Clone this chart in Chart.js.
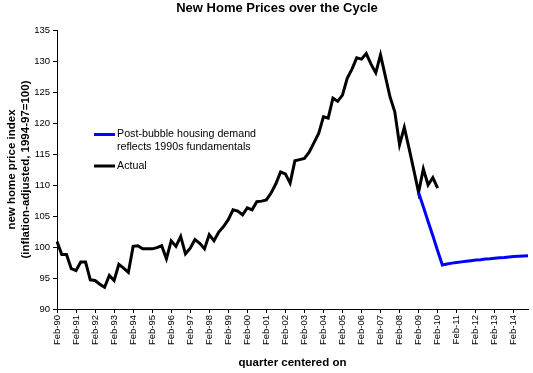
<!DOCTYPE html>
<html>
<head>
<meta charset="utf-8">
<title>New Home Prices over the Cycle</title>
<script src="https://cdn.jsdelivr.net/npm/chart.js@4"></script>
<style>
  html, body { margin: 0; padding: 0; background: #fff; }
  #wrap { width: 533px; height: 373px; }
</style>
</head>
<body>
<div id="wrap"><canvas id="priceChart" width="533" height="373"></canvas></div>
<script>
// quarters run Feb-90 .. Nov-14
const years = ['90','91','92','93','94','95','96','97','98','99','00','01','02',
               '03','04','05','06','07','08','09','10','11','12','13','14'];
const quarterMonths = ['Feb', 'May', 'Aug', 'Nov'];

// actual new home price index, Feb-90 .. Feb-10
const actualIndex = [
  100.9, 98.8, 98.8, 96.5, 96.2, 97.6, 97.6, 94.7, 94.6, 94.0,
  93.5, 95.4, 94.6, 97.2, 96.6, 95.9, 100.1, 100.2, 99.7, 99.7,
  99.7, 99.9, 100.2, 98.1, 101.0, 100.1, 101.7, 98.9, 99.8, 101.2,
  100.6, 99.7, 102.0, 101.0, 102.4, 103.3, 104.4, 106.0, 105.8, 105.2,
  106.3, 106.0, 107.3, 107.4, 107.6, 108.7, 110.2, 112.1, 111.8, 110.3,
  113.9, 114.1, 114.3, 115.3, 116.8, 118.3, 121.0, 120.8, 124.0, 123.5,
  124.5, 127.2, 128.7, 130.5, 130.3, 131.2, 129.5, 128.1, 131.0, 127.6,
  124.2, 121.8, 116.5, 119.3, 115.9, 112.4, 108.8, 112.6, 110.0, 111.2,
  109.5
];

// post-bubble path, Feb-09 .. Nov-14
const postBubbleStart = 76;
const postBubble = [
  108.8, 106.5, 104.1, 101.8, 99.4, 97.1, 97.25, 97.4, 97.5, 97.6,
  97.7, 97.8, 97.9, 97.95, 98.05, 98.1, 98.2, 98.25, 98.3, 98.4,
  98.45, 98.5, 98.55, 98.6
];

const yMin = 90;
const yMax = 135;
const yStep = 5;

const FONT = "Arial, 'Liberation Sans', sans-serif";

const labels = [];
years.forEach(y => quarterMonths.forEach(m => labels.push(m + '-' + y)));
labels.length = postBubbleStart + postBubble.length;

const actualData = labels.map((_, i) => i < actualIndex.length ? actualIndex[i] : null);
const blueData = labels.map((_, i) => i >= postBubbleStart ? postBubble[i - postBubbleStart] : null);

// title + legend drawn inside the plot like the original
const overlayPlugin = {
  id: 'overlay',
  afterDraw(chart) {
    const ctx = chart.ctx;
    ctx.save();
    ctx.fillStyle = '#000';
    ctx.textAlign = 'center';
    ctx.textBaseline = 'middle';
    ctx.font = 'bold 13px ' + FONT;
    ctx.fillText('New Home Prices over the Cycle', 277, 8);

    ctx.textAlign = 'left';
    ctx.font = '10.7px ' + FONT;
    const rows = [
      { ds: chart.data.datasets[0], y: 134.5 },
      { ds: chart.data.datasets[1], y: 166 }
    ];
    rows.forEach(r => {
      ctx.strokeStyle = r.ds.borderColor;
      ctx.lineWidth = 3;
      ctx.beginPath();
      ctx.moveTo(94, r.y);
      ctx.lineTo(115, r.y);
      ctx.stroke();
      const lines = Array.isArray(r.ds.label) ? r.ds.label : [r.ds.label];
      lines.forEach((t, k) => ctx.fillText(t, 117, r.y + k * 12.5));
    });
    ctx.restore();
  }
};

new Chart(document.getElementById('priceChart'), {
  type: 'line',
  data: {
    labels: labels,
    datasets: [
      {
        label: ['Post-bubble housing demand', 'reflects 1990s fundamentals'],
        data: blueData,
        borderColor: '#0000ff',
        borderWidth: 3,
        pointRadius: 0,
        tension: 0,
        fill: false
      },
      {
        label: 'Actual',
        data: actualData,
        borderColor: '#000000',
        borderWidth: 3,
        pointRadius: 0,
        tension: 0,
        fill: false
      }
    ]
  },
  options: {
    responsive: false,
    animation: false,
    layout: { padding: { top: 30, right: 5, left: 0, bottom: 0 } },
    plugins: {
      legend: { display: false },
      title: { display: false },
      tooltip: { enabled: false }
    },
    scales: {
      x: {
        type: 'category',
        offset: false,
        afterFit: scale => {
          scale.height = 64;
          scale.paddingRight = 0;
          scale.paddingLeft = 0;
        },
        border: { display: true, color: '#000', width: 1 },
        grid: {
          drawOnChartArea: false,
          drawTicks: true,
          tickLength: 4,
          color: c => (c.index % 4 === 0 ? '#000' : 'rgba(0,0,0,0)')
        },
        ticks: {
          autoSkip: false,
          maxRotation: 90,
          minRotation: 90,
          padding: 2,
          color: '#000',
          font: { family: FONT, size: 9.5 },
          callback: (v, i) => (i % 4 === 0 ? labels[i] : '')
        },
        title: {
          display: true,
          text: 'quarter centered on',
          color: '#000',
          font: { family: FONT, size: 11.5, weight: 'bold' },
          padding: { top: 0, bottom: 3 }
        }
      },
      y: {
        min: yMin,
        max: yMax,
        afterFit: scale => { scale.width = 57; },
        border: { display: true, color: '#000', width: 1 },
        grid: {
          drawOnChartArea: false,
          drawTicks: true,
          tickLength: 4,
          color: '#000'
        },
        ticks: {
          stepSize: yStep,
          padding: 3,
          color: '#000',
          font: { family: FONT, size: 9.5 }
        },
        title: {
          display: true,
          text: ['new home price index', '(inflation-adjusted, 1994-97=100)'],
          color: '#000',
          font: { family: FONT, size: 11.5, weight: 'bold' },
          padding: { top: 5, bottom: 0 }
        }
      }
    }
  },
  plugins: [overlayPlugin]
});
</script>
</body>
</html>
